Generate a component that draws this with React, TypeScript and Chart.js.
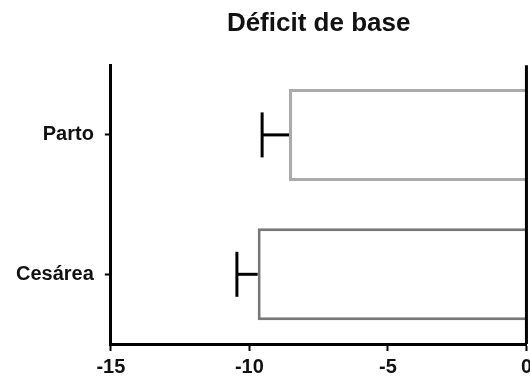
import React, { useEffect, useRef } from "react";
import { Chart, registerables } from "chart.js";

Chart.register(...registerables);

const TITLE = "Déficit de base";
const categories = ["Parto", "Cesárea"];
const means = [-8.57, -9.7];
const errors = [0.97, 0.75];
const borderColors = ["#ababab", "#787878"];
const xMin = -15;
const xMax = 0;
const xStep = 5;

const FONT = "'Liberation Sans', Arial, sans-serif";

const errorBarPlugin = {
  id: "errorBars",
  afterDatasetsDraw(chart: any) {
    const ctx = chart.ctx;
    const x = chart.scales.x;
    const y = chart.scales.y;
    const area = chart.chartArea;
    ctx.save();
    ctx.strokeStyle = "#000";
    ctx.lineWidth = 3;
    const x0 = x.getPixelForValue(0);
    ctx.beginPath();
    ctx.moveTo(x0, area.top);
    ctx.lineTo(x0, area.bottom);
    ctx.stroke();
    means.forEach((m, i) => {
      const yc = y.getPixelForValue(i);
      const xs = x.getPixelForValue(m);
      const xe = x.getPixelForValue(m - errors[i]);
      ctx.beginPath();
      ctx.moveTo(xs, yc);
      ctx.lineTo(xe, yc);
      ctx.stroke();
      ctx.beginPath();
      ctx.moveTo(xe, yc - 22.5);
      ctx.lineTo(xe, yc + 22.5);
      ctx.stroke();
    });
    ctx.restore();
  },
};

export default function App() {
  const ref = useRef<HTMLCanvasElement | null>(null);
  useEffect(() => {
    document.documentElement.style.overflow = "hidden";
    document.body.style.overflow = "hidden";
    const chart = new Chart(ref.current as HTMLCanvasElement, {
      type: "bar",
      data: {
        labels: categories,
        datasets: [
          {
            data: means,
            backgroundColor: "#ffffff",
            borderColor: borderColors,
            borderWidth: 3,
            borderSkipped: "start",
            barPercentage: 0.66,
            categoryPercentage: 1,
          },
        ],
      },
      options: {
        indexAxis: "y",
        animation: false,
        responsive: true,
        maintainAspectRatio: false,
        layout: { padding: { left: 5, right: 0, top: 0, bottom: 1 } },
        plugins: {
          legend: { display: false },
          tooltip: { enabled: false },
          title: {
            display: true,
            text: TITLE,
            fullSize: false,
            color: "#111",
            font: { family: FONT, size: 26, weight: "bold" },
            padding: { top: 8, bottom: 26 },
          },
        },
        scales: {
          x: {
            min: xMin,
            max: xMax,
            ticks: {
              stepSize: xStep,
              color: "#111",
              padding: 4,
              font: { family: FONT, size: 20, weight: "bold" },
            },
            grid: {
              drawOnChartArea: false,
              tickLength: 7,
              tickColor: "#000",
              tickWidth: 2,
            },
            border: { display: true, color: "#000", width: 3 },
          },
          y: {
            ticks: {
              color: "#111",
              padding: 11,
              font: { family: FONT, size: 20, weight: "bold" },
            },
            grid: {
              drawOnChartArea: false,
              offset: false,
              tickLength: 6,
              tickColor: "#000",
              tickWidth: 2,
            },
            border: { display: true, color: "#000", width: 3 },
          },
        },
      },
      plugins: [errorBarPlugin],
    } as any);
    return () => chart.destroy();
  }, []);
  return (
    <div
      style={{
        position: "fixed",
        left: 0,
        top: 0,
        width: "536px",
        height: "384px",
        background: "#fff",
      }}
    >
      <canvas ref={ref} />
    </div>
  );
}
